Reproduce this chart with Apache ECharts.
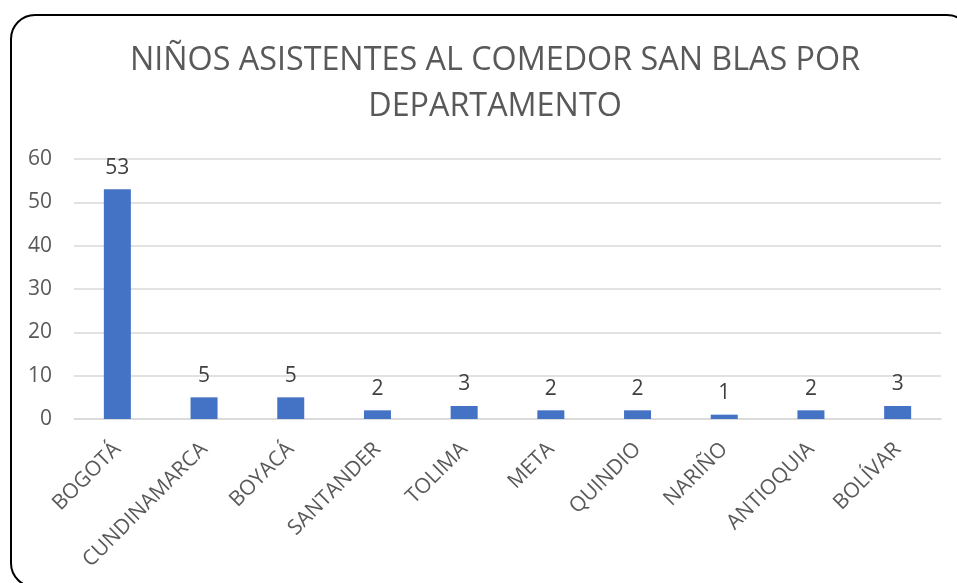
<!DOCTYPE html>
<html>
<head>
<meta charset="utf-8">
<script src="https://cdn.jsdelivr.net/npm/echarts@6/dist/echarts.min.js"></script>
<style>
  html, body { margin: 0; padding: 0; background: #fff; }
  #container { width: 957px; height: 583px; }
</style>
</head>
<body>
<div id="container"></div>
<script>
var departamentos = ['BOGOTÁ', 'CUNDINAMARCA', 'BOYACÁ', 'SANTANDER', 'TOLIMA', 'META', 'QUINDIO', 'NARIÑO', 'ANTIOQUIA', 'BOLÍVAR'];
var ninos = [53, 5, 5, 2, 3, 2, 2, 1, 2, 3];
var yMin = 0, yMax = 60, yStep = 10;

var dom = document.getElementById('container');
var myChart = echarts.init(dom);
var fuente = 'Open Sans';

var option = {
    backgroundColor: '#ffffff',
    animation: false,
    title: {
        text: 'NIÑOS ASISTENTES AL COMEDOR SAN BLAS POR\nDEPARTAMENTO',
        left: 490,
        textAlign: 'center',
        top: 33,
        textStyle: {
            fontFamily: fuente,
            fontWeight: 'normal',
            fontSize: 32.3,
            lineHeight: 46,
            color: '#595959'
        }
    },
    graphic: [{
        type: 'rect',
        shape: { x: 11, y: 15, width: 960, height: 572, r: 24 },
        style: { fill: 'none', stroke: '#000000', lineWidth: 2 },
        silent: true
    }],
    grid: {
        left: 74,
        right: 16,
        top: 159,
        bottom: 164
    },
    xAxis: {
        type: 'category',
        data: departamentos,
        axisLine: { lineStyle: { color: '#d9d9d9', width: 1.5 } },
        axisTick: { show: false },
        axisLabel: {
            rotate: 45,
            margin: 27,
            fontFamily: fuente,
            fontSize: 21,
            color: '#595959',
            interval: 0
        }
    },
    yAxis: {
        type: 'value',
        min: yMin,
        max: yMax,
        interval: yStep,
        axisLine: { show: false },
        axisTick: { show: false },
        splitLine: { lineStyle: { color: '#d9d9d9', width: 1.5 } },
        axisLabel: {
            margin: 22,
            fontFamily: fuente,
            fontSize: 21,
            color: '#595959'
        }
    },
    series: [{
        name: 'Niños',
        type: 'bar',
        data: ninos,
        barWidth: 27,
        itemStyle: { color: '#4472c4' },
        label: {
            show: true,
            position: 'top',
            distance: 11,
            fontFamily: fuente,
            fontSize: 21,
            color: '#404040'
        }
    }]
};

myChart.setOption(option, true);
</script>
</body>
</html>
